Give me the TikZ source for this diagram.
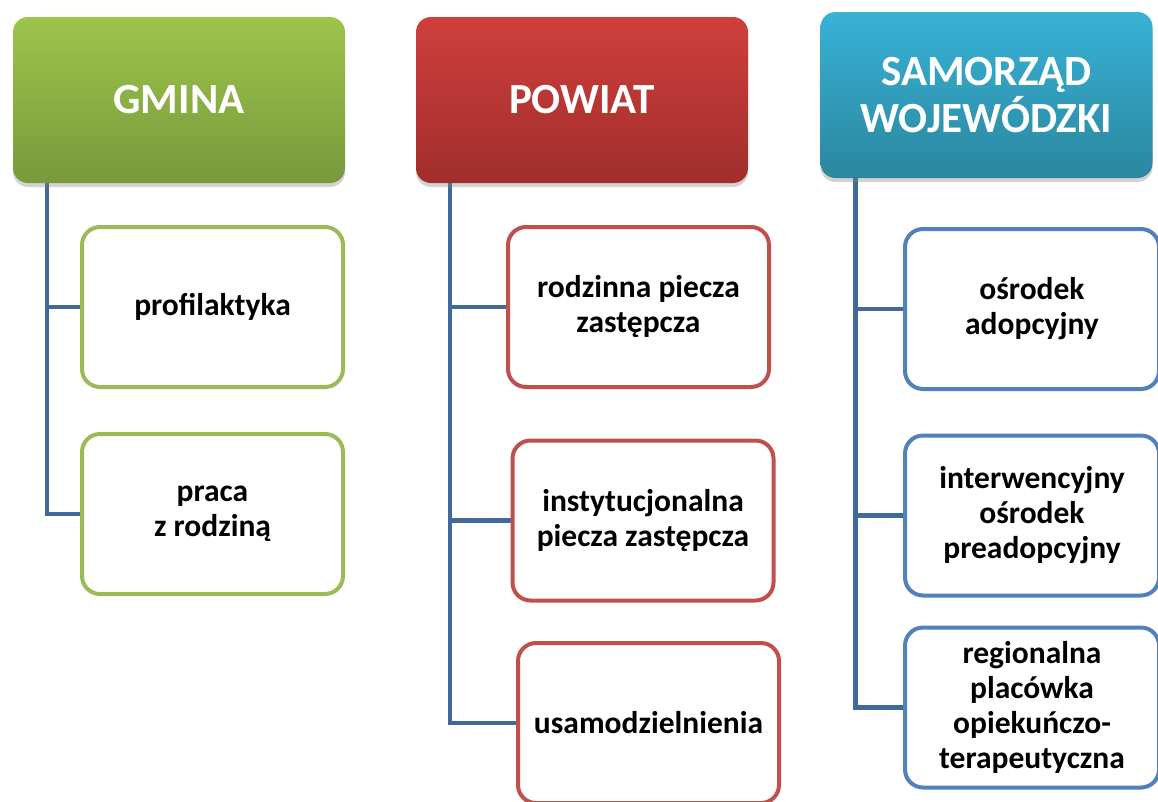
\documentclass[tikz,border=0pt]{standalone}
\usepackage{fontspec}
\setmainfont{Carlito}
\usetikzlibrary{shadows,backgrounds}
\definecolor{conn}{RGB}{65,105,155}
\definecolor{gtop}{RGB}{156,197,75}
\definecolor{gbot}{RGB}{121,153,59}
\definecolor{gline}{RGB}{155,187,89}
\definecolor{rtop}{RGB}{207,63,60}
\definecolor{rbot}{RGB}{160,46,44}
\definecolor{rline}{RGB}{192,80,77}
\definecolor{btop}{RGB}{56,178,215}
\definecolor{bbot}{RGB}{43,135,158}
\definecolor{bline}{RGB}{79,129,189}
\tikzset{
  header/.style={rounded corners=15pt, minimum width=332pt, minimum height=166pt,
    outer sep=0pt, inner sep=0pt, align=center, text=white,
    font=\fontsize{43}{47}\selectfont\bfseries,
    drop shadow={opacity=0.35, shadow xshift=0pt, shadow yshift=-4pt}},
  item/.style={rounded corners=18pt, minimum width=261pt, minimum height=160pt,
    outer sep=0pt, inner sep=0pt, align=center, line width=4pt, fill=white,
    font=\fontsize{31.5}{35}\selectfont\bfseries},
  connector/.style={draw=conn, line width=4.5pt},
}
\begin{document}
\begin{tikzpicture}[x=1pt,y=-1pt]
\useasboundingbox (0,0) rectangle (1158,801);
% headers
\node[header, top color=gtop, bottom color=gbot] (g) at (179,100) {GMINA};
\node[header, top color=rtop, bottom color=rbot] (p) at (582,100) {POWIAT};
\node[header, top color=btop, bottom color=bbot] (s) at (986.5,95) {SAMORZĄD\\WOJEWÓDZKI};
% green items
\node[item, draw=gline] (g1) at (212.5,307) {profilaktyka};
\node[item, draw=gline] (g2) at (212.5,514) {praca\\z rodziną};
% red items
\node[item, draw=rline] (p1) at (638.5,307) {rodzinna piecza\\zastępcza};
\node[item, draw=rline] (p2) at (643,520.5) {instytucjonalna\\piecza zastępcza};
\node[item, draw=rline] (p3) at (648.5,723) {usamodzielnienia};
% blue items
\node[item, draw=bline, minimum width=254pt] (s1) at (1032,309) {ośrodek\\adopcyjny};
\node[item, draw=bline, minimum width=254pt] (s2) at (1032,515.5) {interwencyjny\\ośrodek\\preadopcyjny};
\node[item, draw=bline, minimum width=254pt] (s3) at (1032,707.5) {regionalna\\placówka\\opiekuńczo-\\terapeutyczna};
% connectors
\begin{scope}[on background layer]
\draw[connector] ([xshift=34pt]g.south west) |- (g1.west);
\draw[connector] ([xshift=34pt]g.south west) |- (g2.west);
\draw[connector] ([xshift=34pt]p.south west) |- (p1.west);
\draw[connector] ([xshift=34pt]p.south west) |- (p2.west);
\draw[connector] ([xshift=34pt]p.south west) |- (p3.west);
\draw[connector] ([xshift=35pt]s.south west) |- (s1.west);
\draw[connector] ([xshift=35pt]s.south west) |- (s2.west);
\draw[connector] ([xshift=35pt]s.south west) |- (s3.west);
\end{scope}
\end{tikzpicture}
\end{document}
